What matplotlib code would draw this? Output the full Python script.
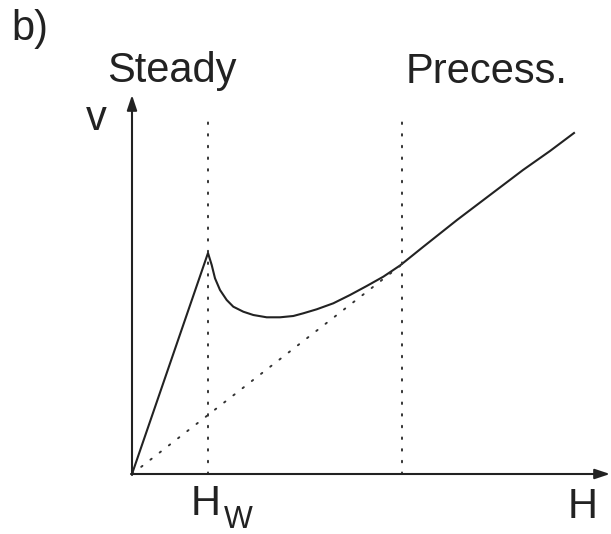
import matplotlib.pyplot as plt

plt.rcParams['font.family'] = ['Liberation Sans', 'DejaVu Sans']

# curve (H, v), arbitrary units
curve_h = [0, 76, 79.7, 83, 88, 94.7, 101.3, 111.3, 121.3, 134.7, 148, 161.3,
           171.3, 184.7, 201.3, 218, 234.7, 251.3, 268, 291, 325, 358, 391, 418, 442]
curve_v = [0, 221, 209, 195.7, 184, 174, 167.3, 162.3, 159, 156.7, 156.7, 158,
           160.7, 164.7, 170.7, 179, 188, 197.3, 208.5, 227, 254, 279, 304, 323, 341]

# dotted asymptote and the two dotted markers
asym_h = [0, 268]
asym_v = [0, 208]
h_walker = 76
h_precess = 270
v_marker_top = 358

fig = plt.figure(figsize=(6.11, 5.34), dpi=100, facecolor='white')
ax = fig.add_axes([0, 0, 1, 1])
ax.set_xlim(-132, 479)
ax.set_ylim(-60, 474)
ax.axis('off')

ax.plot(curve_h, curve_v, color='#222222', lw=1.5, solid_joinstyle='round')
ax.plot(asym_h, asym_v, color='#333333', lw=1.4, linestyle=(0, (0.8, 5.2)),
        dash_capstyle='round')
for h in (h_walker, h_precess):
    ax.plot([h, h], [0, v_marker_top], color='#333333', lw=1.4,
            linestyle=(0, (0.8, 5.2)), dash_capstyle='round')

# axes with arrows
arrow = dict(arrowstyle='-|>,head_length=0.9,head_width=0.3', lw=1.5,
             color='#222222', shrinkA=0, shrinkB=0)
ax.annotate('', xy=(0, 379), xytext=(0, -1), arrowprops=arrow)
ax.annotate('', xy=(478, 0), xytext=(-1, 0), arrowprops=arrow)

fs = 30
tc = '#222222'
ax.text(-121, 434, 'b)', fontsize=fs, color=tc, va='baseline')
ax.text(-25, 392, 'Steady', fontsize=fs, color=tc, va='baseline')
ax.text(274, 391, 'Precess.', fontsize=fs, color=tc, va='baseline')
ax.text(-46, 344, 'v', fontsize=fs, color=tc, va='baseline')
ax.text(59, -41, 'H', fontsize=fs, color=tc, va='baseline')
ax.text(92, -54, 'W', fontsize=22, color=tc, va='baseline')
ax.text(436, -44, 'H', fontsize=fs, color=tc, va='baseline')

fig.savefig('out.png', dpi=100, facecolor='white')
